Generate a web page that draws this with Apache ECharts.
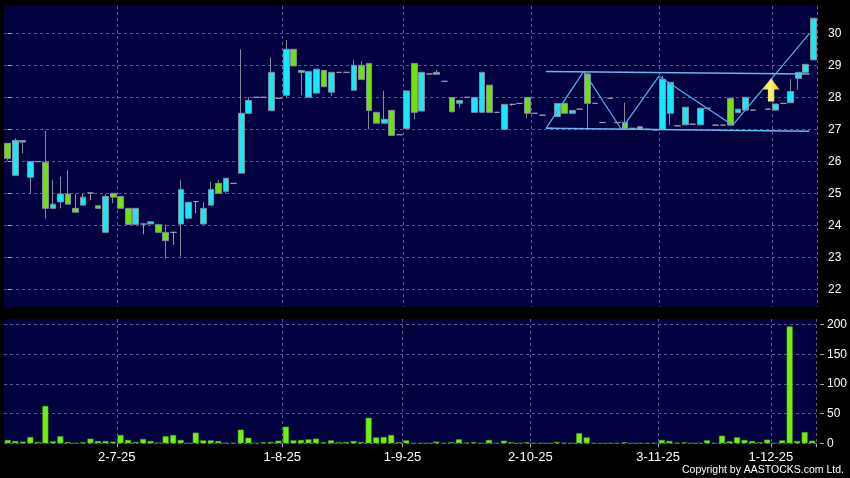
<!DOCTYPE html>
<html><head><meta charset="utf-8">
<script src="https://cdn.jsdelivr.net/npm/echarts@6/dist/echarts.min.js"></script>
<style>html,body{margin:0;padding:0;background:#000;}#c{width:850px;height:478px;}</style>
</head><body><div id="c"></div>
<script>
const openP = [26.56,25.56,26.60,25.50,25.99,25.97,24.53,24.73,24.98,24.53,
24.63,25.01,24.61,23.78,25.00,24.90,24.53,24.03,24.04,24.04,
24.02,23.78,23.78,24.04,24.22,24.74,24.04,24.63,25.31,25.06,
25.31,25.63,27.50,28.00,28.00,27.59,27.97,28.06,29.50,28.78,
28.00,28.13,28.84,28.16,28.78,28.78,28.22,29.00,29.06,27.53,
27.19,27.59,26.83,27.02,29.06,27.57,28.73,28.72,28.50,27.99,
27.81,28.00,27.53,27.53,28.38,27.53,27.00,27.78,27.81,27.99,
27.50,27.44,27.03,27.40,27.81,27.50,27.63,28.73,27.81,27.21,
27.97,27.21,27.22,27.03,27.08,27.00,26.98,27.00,27.50,27.11,
27.14,27.16,27.14,27.66,27.13,27.13,27.97,27.52,27.60,27.60,
null,27.63,27.60,27.81,27.83,28.59,28.78,29.17];
const closeP = [26.09,26.65,26.65,25.99,25.99,24.53,24.66,24.98,24.66,24.41,
24.88,25.01,24.53,24.90,24.88,24.53,24.03,24.53,24.04,24.11,
23.78,23.52,23.78,25.12,24.72,24.74,24.53,25.12,25.00,25.47,
25.31,27.50,27.90,28.00,28.00,28.78,27.97,29.50,28.98,28.84,
28.80,28.88,28.33,28.78,28.78,28.78,29.00,28.56,27.59,27.19,
27.31,26.81,26.83,28.20,27.53,28.78,28.73,28.78,28.50,27.55,
27.90,28.00,27.99,28.78,27.53,27.53,27.78,27.78,27.81,27.50,
27.50,27.44,27.03,27.81,27.50,27.59,27.63,27.81,27.81,27.21,
27.97,27.21,27.03,27.03,27.00,27.00,26.98,28.56,28.47,27.11,
27.69,27.16,27.66,27.66,27.13,27.13,27.13,27.63,28.00,27.60,
null,27.63,27.79,27.81,28.18,28.78,29.03,30.47];
const lowP = [26.02,25.56,26.25,25.00,25.99,24.21,24.53,24.53,24.66,24.41,
24.63,24.79,24.53,23.78,24.69,24.53,24.03,24.03,23.72,24.04,
23.78,22.96,23.39,23.02,24.22,24.38,24.04,24.63,25.00,25.00,
25.31,25.63,27.50,28.00,28.00,27.59,27.97,27.99,28.98,28.07,
28.00,28.13,28.33,28.04,28.78,28.78,28.22,28.56,27.00,27.19,
27.19,26.81,26.83,27.02,27.31,27.57,28.73,28.72,28.50,27.52,
27.68,28.00,27.53,27.53,27.53,27.53,27.00,27.73,27.81,27.34,
27.50,27.44,27.03,27.40,27.50,27.50,27.63,27.00,27.81,27.21,
27.97,27.21,27.03,27.03,27.00,27.00,26.98,27.00,27.13,27.11,
27.14,27.16,27.14,27.66,27.13,27.13,27.13,27.52,27.60,27.60,
null,27.63,27.60,27.81,27.83,28.23,28.78,29.17];
const highP = [26.56,26.72,26.65,25.99,25.99,26.95,25.42,25.52,25.73,24.98,
24.98,25.01,24.61,24.98,25.00,24.90,24.53,24.53,24.04,24.11,
24.02,24.02,23.78,25.42,24.72,24.74,24.72,25.36,25.42,25.47,
25.31,29.50,28.00,28.00,28.00,29.25,27.97,29.79,29.50,28.84,
28.80,28.88,28.84,28.78,28.78,28.78,29.17,29.13,29.06,27.53,
28.20,27.59,26.83,28.20,29.06,28.78,28.73,28.85,28.50,27.99,
27.90,28.00,27.99,28.78,28.38,27.53,27.78,27.78,27.81,27.99,
27.50,27.44,27.03,27.81,27.81,27.59,27.63,28.78,27.81,27.21,
27.97,27.21,27.83,27.03,27.08,27.00,26.98,28.67,28.47,27.11,
27.69,27.16,27.66,27.66,27.13,27.13,27.97,27.63,28.00,27.60,
null,27.63,27.79,27.81,28.57,28.78,29.03,30.47];
const volume = [5.6,3.9,2.8,10.6,2.2,63,3.3,12,2.2,0.5,
1.7,7.8,3.9,3.9,2.8,14,5.6,2.2,7.2,3.9,
1.1,12,14,5.6,0.5,18,5,5,3.9,1,
1,23,9.4,0.5,1.7,2.2,4.4,28,5,5.6,
6.7,7.8,1.7,5,1.7,2.2,3.9,2.2,43,10,
10.6,14,1.7,5,0.5,0.5,0.3,2.8,0.3,1.7,
6.7,1.1,1.7,0.5,5.6,0.5,4.4,1.7,0.5,1.7,
0.3,0.3,0.3,2.2,1,0.3,17.2,10,0.3,0.3,
0.3,0.3,1.7,0.3,0.5,0.3,0.3,5.6,3.9,1,
1.7,0.3,0.5,5,0.3,12.8,3.3,10,5.6,3.9,
1.7,6.1,0.5,5,197,3.9,18.9,4.4];
const labelIndex = [15, 37, 53, 70, 87, 102];
const tickLabels = ['2-7-25', '1-8-25', '1-9-25', '2-10-25', '3-11-25', '1-12-25'];
const priceTicks = [22, 23, 24, 25, 26, 27, 28, 29, 30];
const volumeTicks = [0, 50, 100, 150, 200];
const channelTop = [[71.5, 28.81], [106.5, 28.73]];
const channelBottom = [[71.5, 27.03], [106.5, 26.94]];
const zigzag = [[71.5, 27.03], [76.5, 28.81], [81.5, 27.0], [86.5, 28.66], [96.3, 27.13], [106.5, 30.0]];
const arrowPoint = [[101.4, 28.23]];

const N = openP.length;
const categories = [];
for (let i = 0; i < N; i++) {
  const k = labelIndex.indexOf(i);
  categories.push(k >= 0 ? tickLabels[k] : String(i));
}
const isLab = (idx) => labelIndex.indexOf(idx) >= 0;
const candles = openP.map((o, i) => o == null ? '-' : [o, closeP[i], lowP[i], highP[i]]);

const gridLine = { show: true, lineStyle: { color: '#5a5a8e', width: 1, type: [3, 3] } };
const FONT = 'Liberation Sans';

const chart = echarts.init(document.getElementById('c'), null, { renderer: 'canvas' });
chart.setOption({
  animation: false,
  backgroundColor: '#000000',
  grid: [
    { left: 4, right: 33, top: 6, height: 300.7, show: true, backgroundColor: '#010140', borderWidth: 0 },
    { left: 4, right: 33, top: 319, height: 124.3, show: true, backgroundColor: '#010140', borderWidth: 0 }
  ],
  xAxis: [
    { type: 'category', gridIndex: 0, data: categories, boundaryGap: true,
      axisLine: { show: false }, axisTick: { show: false }, axisLabel: { show: false },
      splitLine: Object.assign({ interval: (i) => isLab(i) }, gridLine) },
    { type: 'category', gridIndex: 1, data: categories, boundaryGap: true, offset: 2,
      axisLine: { show: false },
      axisTick: { show: true, interval: (i) => isLab(i), length: 4, lineStyle: { color: '#aaaaaa' } },
      axisLabel: { show: true, interval: (i) => isLab(i), color: '#ffffff', fontSize: 13, fontFamily: FONT,
        margin: 6, padding: [0, 7.5, 0, 0] },
      splitLine: Object.assign({ interval: (i) => isLab(i) }, gridLine) },
    { type: 'value', gridIndex: 0, min: -0.5, max: N - 0.5, show: false }
  ],
  yAxis: [
    { type: 'value', gridIndex: 0, position: 'right', min: 21.456, max: 30.853, offset: 4,
      axisLine: { show: false },
      axisTick: { show: true, customValues: priceTicks, length: 4, lineStyle: { color: '#aaaaaa' } },
      axisLabel: { customValues: priceTicks, color: '#ffffff', fontSize: 12, fontFamily: FONT, margin: 7 },
      splitLine: gridLine },
    { type: 'value', gridIndex: 1, position: 'right', min: 0, max: 209.6, offset: 4,
      axisLine: { show: false },
      axisTick: { show: true, customValues: volumeTicks, length: 4, lineStyle: { color: '#aaaaaa' } },
      axisLabel: { customValues: volumeTicks, color: '#ffffff', fontSize: 12, fontFamily: FONT, margin: 7 },
      splitLine: gridLine }
  ],
  series: [
    { type: 'candlestick', xAxisIndex: 0, yAxisIndex: 0, data: candles, barWidth: 6.3,
      itemStyle: { color: '#19e6f6', color0: '#6fe012', borderColor: '#7f8d9a', borderColor0: '#7f8d9a',
        borderColorDoji: '#9a9aaa', borderWidth: 1 } },
    { type: 'bar', xAxisIndex: 1, yAxisIndex: 1, data: volume, barWidth: 6,
      itemStyle: { color: '#72f012', borderColor: '#4c9a14', borderWidth: 0.5 } },
    { type: 'line', xAxisIndex: 2, yAxisIndex: 0, data: channelTop, symbol: 'none', silent: true,
      lineStyle: { color: '#66b8f0', width: 1.5 } },
    { type: 'line', xAxisIndex: 2, yAxisIndex: 0, data: channelBottom, symbol: 'none', silent: true,
      lineStyle: { color: '#66b8f0', width: 1.5 } },
    { type: 'line', xAxisIndex: 2, yAxisIndex: 0, data: zigzag, symbol: 'none', silent: true,
      lineStyle: { color: '#58aeea', width: 1.2 } },
    { type: 'scatter', xAxisIndex: 2, yAxisIndex: 0, data: arrowPoint, silent: true, z: 5,
      symbol: 'path://M8,0 L16,11 L11,11 L11,23 L5,23 L5,11 L0,11 Z', symbolSize: [17, 23],
      itemStyle: { opacity: 1, color: new echarts.graphic.LinearGradient(0, 0, 1, 0, [
        { offset: 0, color: '#ffe135' }, { offset: 0.5, color: '#fff27a' }, { offset: 1, color: '#f5b400' }]) } }
  ],
  graphic: [
    { type: 'text', right: 6, top: 465, style: { text: 'Copyright by AASTOCKS.com Ltd.', fill: '#ffffff',
      font: '10.5px "Liberation Sans"' } }
  ]
});
</script></body></html>
